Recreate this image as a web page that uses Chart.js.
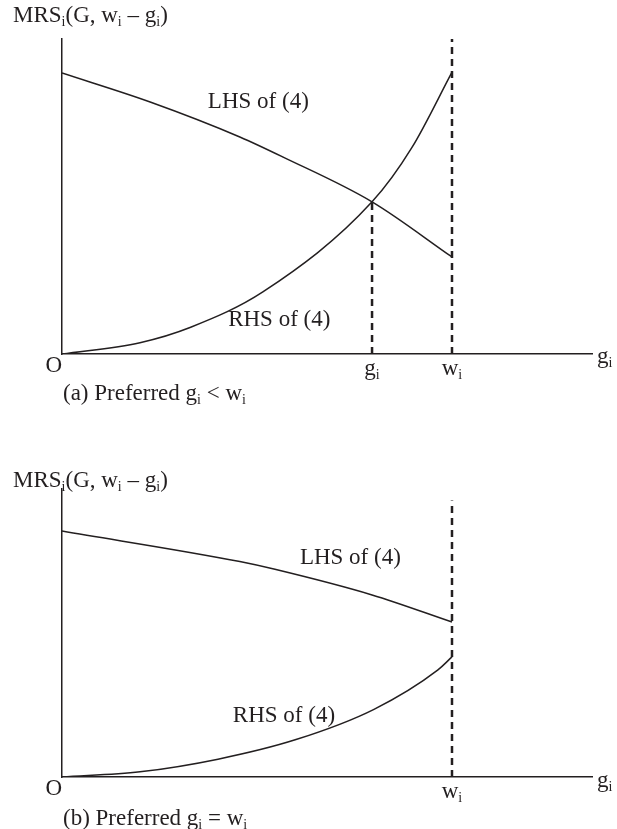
<!DOCTYPE html>
<html>
<head>
<meta charset="utf-8">
<script src="https://cdn.jsdelivr.net/npm/chart.js@4/dist/chart.umd.min.js"></script>
<style>
body{margin:0;background:#fff;width:617px;height:829px;position:relative;overflow:hidden}
canvas{position:absolute;left:0}
#chartA{top:0}
#chartB{top:415px}
</style>
</head>
<body>
<canvas id="chartA" width="617" height="415"></canvas>
<canvas id="chartB" width="617" height="414"></canvas>
<script>
// x in units of w_i, y in units of the axis height
const xMax = 1.359;
const wi = 1;
const gi = 0.795;
const giLevel = 0.483;

// (a) preferred g_i < w_i
const lhsA_x = [0, 0.226, 0.456, 0.567, 0.795, 1];
const lhsA_y = [0.892, 0.800, 0.689, 0.625, 0.483, 0.308];
const rhsA_x = [0, 0.2, 0.33, 0.515, 0.795, 0.897, 1];
const rhsA_y = [0, 0.036, 0.085, 0.197, 0.483, 0.655, 0.895];

// (b) preferred g_i = w_i
const lhsB_x = [0, 0.456, 0.546, 0.795, 1];
const lhsB_y = [0.854, 0.748, 0.721, 0.632, 0.538];
const rhsB_x = [0, 0.2, 0.4, 0.6, 0.8, 0.964, 1];
const rhsB_y = [0, 0.018, 0.062, 0.130, 0.235, 0.372, 0.417];
const wiTopB = 0.96;

const ink = "#231f20";
const font = "Liberation Serif";

function pts(xs, ys){ return xs.map((x,i)=>({x:x, y:ys[i]})); }

function curve(xs, ys){
  return {data:pts(xs,ys), borderColor:ink, borderWidth:1.5, pointRadius:0,
          cubicInterpolationMode:"monotone", fill:false};
}
function dashed(x, top){
  return {data:[{x:x,y:0},{x:x,y:top}], borderColor:ink, borderWidth:2.5,
          borderDash:[7,5], pointRadius:0, fill:false};
}

// text with subscripts: parts = [[text, isSub], ...]
function rich(ctx, parts, x, y, align){
  const big = "23px '" + font + "'", small = "14px '" + font + "'";
  let w = 0;
  parts.forEach(p=>{ ctx.font = p[1] ? small : big; w += ctx.measureText(p[0]).width; });
  let cx = align==="center" ? x - w/2 : align==="right" ? x - w : x;
  ctx.fillStyle = ink;
  ctx.textBaseline = "alphabetic";
  ctx.textAlign = "left";
  parts.forEach(p=>{
    ctx.font = p[1] ? small : big;
    ctx.fillText(p[0], cx, p[1] ? y + 4 : y);
    cx += ctx.measureText(p[0]).width;
  });
}

const mrs = [["MRS",0],["i",1],["(G, w",0],["i",1],[" \u2013 g",0],["i",1],[")",0]];

function labelPlugin(labels){
  return {
    id:"labels",
    afterDraw(chart){
      const ctx = chart.ctx, xs = chart.scales.x, ys = chart.scales.y, a = chart.chartArea;
      ctx.save();
      labels.forEach(l=>{
        const px = l.u !== undefined ? xs.getPixelForValue(l.u) : l.px;
        const py = l.v !== undefined ? ys.getPixelForValue(l.v) : a.bottom + l.dy;
        rich(ctx, l.parts, px, py, l.align || "left");
      });
      ctx.restore();
    }
  };
}

function makeChart(id, datasets, pad, labels){
  return new Chart(document.getElementById(id), {
    type:"line",
    data:{datasets:datasets},
    options:{
      responsive:false, animation:false, devicePixelRatio:1,
      layout:{padding:pad},
      plugins:{legend:{display:false}, tooltip:{enabled:false}},
      scales:{
        x:{type:"linear", min:0, max:xMax, grid:{display:false, drawTicks:false},
           ticks:{display:false}, border:{display:true, color:ink, width:1.5}},
        y:{type:"linear", min:0, max:1, grid:{display:false, drawTicks:false},
           ticks:{display:false}, border:{display:true, color:ink, width:1.5}}
      }
    },
    plugins:[labelPlugin(labels)]
  });
}

makeChart("chartA",
  [curve(lhsA_x, lhsA_y), curve(rhsA_x, rhsA_y), dashed(wi, 1), dashed(gi, giLevel)],
  {left:62, right:25, top:39, bottom:61},
  [
    {parts:mrs, px:13, dy:-332},
    {parts:[["LHS of (4)",0]], u:0.374, v:0.781},
    {parts:[["RHS of (4)",0]], u:0.426, v:0.089},
    {parts:[["O",0]], px:62, dy:18, align:"right"},
    {parts:[["g",0],["i",1]], u:gi, dy:21, align:"center"},
    {parts:[["w",0],["i",1]], u:wi, dy:21, align:"center"},
    {parts:[["g",0],["i",1]], px:597, dy:9},
    {parts:[["(a) Preferred g",0],["i",1],[" < w",0],["i",1]], px:63, dy:46}
  ]
);

makeChart("chartB",
  [curve(lhsB_x, lhsB_y), curve(rhsB_x, rhsB_y), dashed(wi, wiTopB)],
  {left:62, right:25, top:74, bottom:52},
  [
    {parts:mrs, px:13, dy:-290},
    {parts:[["LHS of (4)",0]], u:0.61, v:0.74},
    {parts:[["RHS of (4)",0]], u:0.438, v:0.19},
    {parts:[["O",0]], px:62, dy:18, align:"right"},
    {parts:[["w",0],["i",1]], u:wi, dy:21, align:"center"},
    {parts:[["g",0],["i",1]], px:597, dy:10},
    {parts:[["(b) Preferred g",0],["i",1],[" = w",0],["i",1]], px:63, dy:48}
  ]
);
</script>
</body>
</html>
